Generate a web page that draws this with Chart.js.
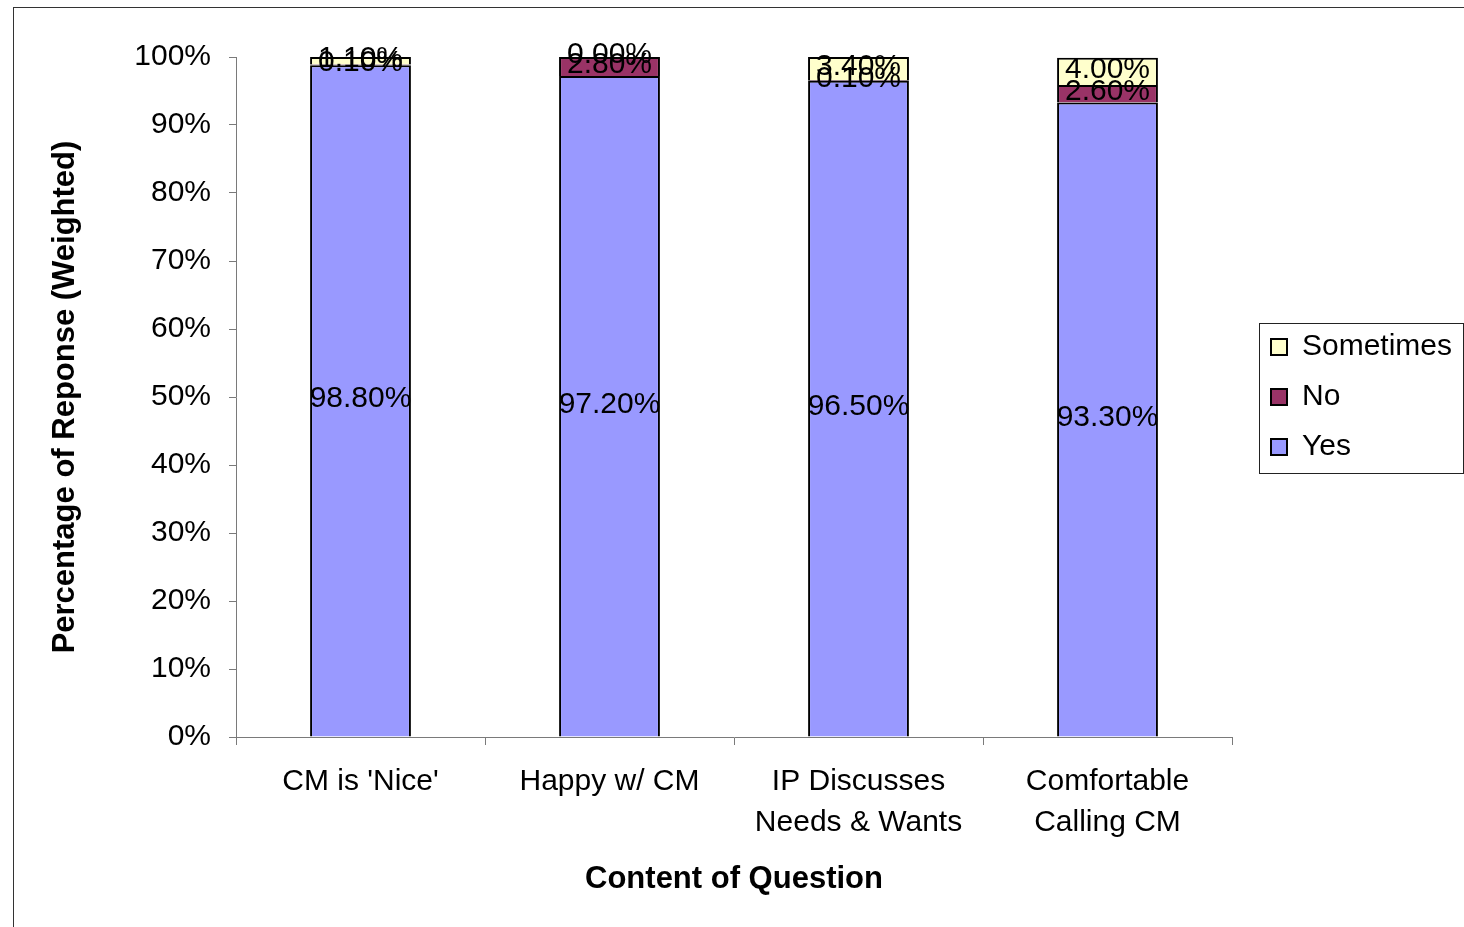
<!DOCTYPE html>
<html>
<head>
<meta charset="utf-8">
<title>Percentage of Reponse (Weighted)</title>
<script src="https://cdn.jsdelivr.net/npm/chart.js@4.4.1/dist/chart.umd.min.js"></script>
<style>
  html, body { margin: 0; padding: 0; background: #fff; }
  canvas { display: block; }
</style>
</head>
<body>
<canvas id="chart" width="1464" height="927"></canvas>
<script>
// Data
const categories = ["CM is 'Nice'", 'Happy w/ CM', ['IP Discusses', 'Needs & Wants'], ['Comfortable', 'Calling CM']];
const yesValues = [98.8, 97.2, 96.5, 93.3];
const noValues = [0.1, 2.8, 0.1, 2.6];
const sometimesValues = [1.1, 0.0, 3.4, 4.0];
const yTicks = [0, 10, 20, 30, 40, 50, 60, 70, 80, 90, 100];

const FONT = "'Liberation Sans', Arial, sans-serif";
const AXIS_GREY = '#7a7a7a';

// Outer frame of the chart object
const frame = {
    id: 'frame',
    beforeDraw(chart) {
        const { ctx } = chart;
        ctx.save();
        ctx.fillStyle = '#fff';
        ctx.fillRect(0, 0, chart.width, chart.height);
        ctx.strokeStyle = '#333';
        ctx.lineWidth = 1;
        ctx.strokeRect(13.5, 7.5, chart.width, chart.height);
        ctx.restore();
    },
};

// Value labels centred in each segment
const valueLabels = {
    id: 'valueLabels',
    afterDatasetsDraw(chart) {
        const { ctx } = chart;
        ctx.save();
        ctx.font = `30px ${FONT}`;
        ctx.fillStyle = '#000';
        ctx.textAlign = 'center';
        ctx.textBaseline = 'middle';
        chart.data.datasets.forEach((ds, i) => {
            chart.getDatasetMeta(i).data.forEach((bar, j) => {
                ctx.fillText(`${ds.data[j].toFixed(2)}%`, bar.x, (bar.y + bar.base) / 2 - 2);
            });
        });
        ctx.restore();
    },
};

// Legend: fixed width, items shifted right, framed box
const legendBox = {
    id: 'legendBox',
    beforeLayout(chart) {
        const legend = chart.legend;
        if (!legend || legend._patched) return;
        legend._patched = true;
        const fit = legend.fit;
        legend.fit = function () {
            fit.call(this);
            this.width = 232;
        };
        const draw = legend.draw;
        legend.draw = function (...args) {
            this.ctx.save();
            this.ctx.translate(19, 0);
            draw.apply(this, args);
            this.ctx.restore();
        };
    },
    afterDraw(chart) {
        const legend = chart.legend;
        const boxes = legend.legendHitBoxes;
        if (!boxes || !boxes.length) return;
        const { ctx } = chart;
        const left = legend.left + 27;
        const top = boxes[0].top - 9;
        const bottom = boxes[boxes.length - 1].top + 41;
        ctx.save();
        ctx.strokeStyle = '#222';
        ctx.lineWidth = 1;
        ctx.strokeRect(left + 0.5, top + 0.5, chart.width - left - 1, bottom - top);
        ctx.restore();
    },
};

// eslint-disable-next-line no-new
new Chart(document.getElementById('chart').getContext('2d'), {
    type: 'bar',
    data: {
        labels: categories,
        datasets: [
            { label: 'Yes', data: yesValues, backgroundColor: '#9999FF' },
            { label: 'No', data: noValues, backgroundColor: '#993366' },
            { label: 'Sometimes', data: sometimesValues, backgroundColor: '#FFFFCC' },
        ].map((ds) => ({
            ...ds,
            borderColor: '#000',
            borderWidth: 2,
            categoryPercentage: 1,
            barPercentage: 0.405,
        })),
    },
    options: {
        responsive: false,
        animation: false,
        devicePixelRatio: 1,
        layout: { padding: { left: 13, top: 57, right: 0, bottom: 0 } },
        plugins: {
            tooltip: { enabled: false },
            legend: {
                position: 'right',
                fullSize: false,
                reverse: true,
                labels: {
                    boxWidth: 16,
                    boxHeight: 16,
                    padding: 20,
                    color: '#000',
                    font: { size: 30, family: FONT },
                },
            },
        },
        scales: {
            x: {
                stacked: true,
                ticks: {
                    padding: 16,
                    color: '#000',
                    maxRotation: 0,
                    autoSkip: false,
                    font: { size: 30, family: FONT, lineHeight: 1.37 },
                },
                grid: { drawOnChartArea: false, offset: true, tickLength: 8, color: AXIS_GREY },
                border: { color: AXIS_GREY },
                title: {
                    display: true,
                    text: 'Content of Question',
                    color: '#000',
                    font: { size: 31, weight: 'bold', family: FONT },
                    padding: { top: 0, bottom: 29 },
                },
                afterFit(scale) {
                    scale.height = 190;
                },
            },
            y: {
                stacked: true,
                min: 0,
                max: 100,
                afterBuildTicks(scale) {
                    scale.ticks = yTicks.map((value) => ({ value }));
                },
                ticks: {
                    padding: 18,
                    color: '#000',
                    font: { size: 30, family: FONT },
                    callback: (v) => `${v}%`,
                },
                grid: { drawOnChartArea: false, tickLength: 7, color: AXIS_GREY },
                border: { color: AXIS_GREY },
                title: {
                    display: true,
                    text: 'Percentage of Reponse (Weighted)',
                    color: '#000',
                    font: { size: 31, weight: 'bold', family: FONT },
                    padding: { top: 34, bottom: 0 },
                },
                afterFit(scale) {
                    scale.width = 223;
                },
            },
        },
    },
    plugins: [frame, valueLabels, legendBox],
});
</script>
</body>
</html>
